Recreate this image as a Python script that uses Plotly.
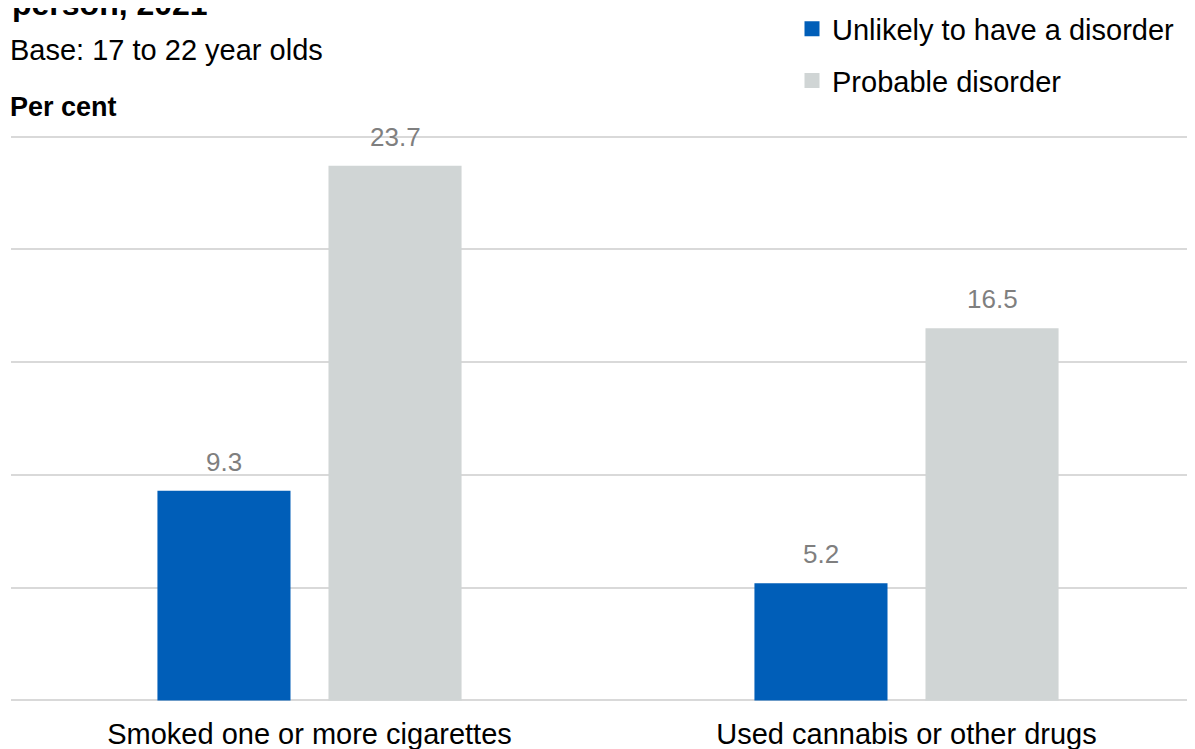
import plotly.graph_objects as go

categories = ["Smoked one or more cigarettes", "Used cannabis or other drugs"]
series_names = ["Unlikely to have a disorder", "Probable disorder"]
unlikely = [9.3, 5.2]
probable = [23.7, 16.5]
colors = ["#005EB8", "#D0D5D5"]

# page body has an 8px margin; the figure is sized to fill the 1195x749 window
W, H = 1187, 741
T, B, L, R = 124, 44, 3, 0
PW = W - L - R
PH = H - T - B
X_UNIT = 597.0           # px per category
Y_LO, Y_HI = -0.2, 25.2

def py(p):
    """figure pixel (from top) -> paper y"""
    return (H - B - p) / PH

def px(p):
    return (p - L) / PW

fig = go.Figure()
series = [unlikely, probable]
for name, vals, col in zip(series_names, series, colors):
    fig.add_trace(go.Bar(
        x=categories, y=vals, name=name, showlegend=False,
        marker=dict(color=col, line=dict(width=0)),
    ))
    # legend entry with a 15px square key
    fig.add_trace(go.Scatter(
        x=[None], y=[None], mode="markers", name=name, legendgroup=name,
        marker=dict(symbol="square", size=15, color=col, line=dict(width=0)),
    ))

# value labels above bars
bar_offsets = [-85.5, 85.5]
annotations = []
for vals, off in zip(series, bar_offsets):
    for cat, v in zip(categories, vals):
        annotations.append(dict(
            x=cat, y=v, xref="x", yref="y", text=f"{v:.1f}", showarrow=False,
            xanchor="center", yanchor="bottom", xshift=off, yshift=12,
            font=dict(size=26, color="#7F7F7F"),
        ))

annotations += [
    dict(text="<b>person, 2021</b>", x=0, xref="paper", xanchor="left", xshift=-1,
         y=py(16), yref="paper", yanchor="bottom", showarrow=False, font=dict(size=32)),
    dict(text="Base: 17 to 22 year olds", x=0, xref="paper", xanchor="left", xshift=-3,
         y=py(42.5), yref="paper", yanchor="middle", showarrow=False, font=dict(size=29)),
    dict(text="<b>Per cent</b>", x=0, xref="paper", xanchor="left", xshift=-3,
         y=py(98.5), yref="paper", yanchor="middle", showarrow=False, font=dict(size=27)),
]

fig.update_layout(
    width=W, height=H,
    margin=dict(t=T, b=B, l=L, r=R, pad=0, autoexpand=False),
    plot_bgcolor="white", paper_bgcolor="white",
    font=dict(family="Liberation Sans, Arial", color="#000000"),
    barmode="group", bargap=0.427, bargroupgap=0.222,
    showlegend=True,
    legend=dict(x=px(784), y=py(-4.5), xanchor="left", yanchor="top",
                font=dict(size=29), tracegroupgap=11, bgcolor="rgba(0,0,0,0)",
                itemwidth=30, itemsizing="trace"),
    xaxis=dict(range=[-0.5, -0.5 + PW / X_UNIT], showgrid=False, zeroline=False,
               showline=False, ticks="", tickfont=dict(size=29), ticklabelstandoff=9,
               automargin=False),
    yaxis=dict(range=[Y_LO, Y_HI], tickvals=[0, 5, 10, 15, 20, 25], showgrid=True,
               gridcolor="#D9D9D9", gridwidth=2, automargin=False,
               zeroline=False, showline=False, showticklabels=False, ticks=""),
    annotations=annotations,
)

fig.write_html("out.html")
